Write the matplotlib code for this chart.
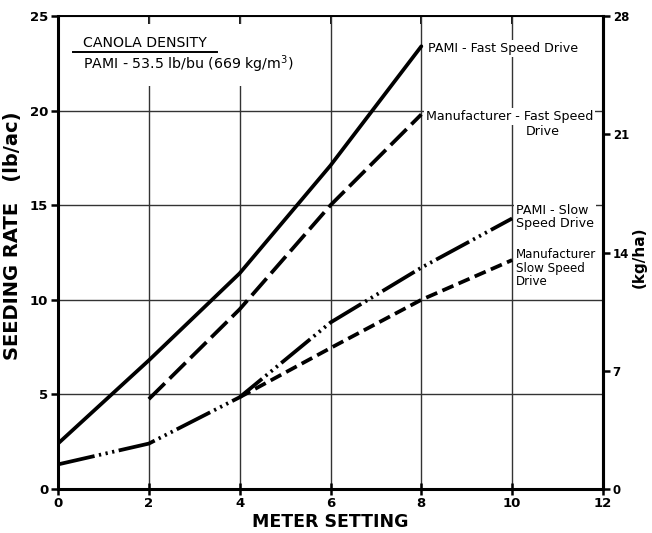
import matplotlib
matplotlib.use("Agg")
import matplotlib.pyplot as plt
from matplotlib.patches import Rectangle

# Data (lb/ac vs meter setting)
pami_fast_x = [0, 2, 4, 6, 8]
pami_fast_y = [2.4, 6.8, 11.4, 17.1, 23.4]
manu_fast_x = [2, 4, 6, 8]
manu_fast_y = [4.75, 9.5, 15.0, 19.8]
pami_slow_x = [0, 2, 4, 6, 8, 10]
pami_slow_y = [1.3, 2.4, 4.85, 8.8, 11.7, 14.3]
manu_slow_x = [4, 6, 8, 10]
manu_slow_y = [4.85, 7.45, 10.0, 12.1]

x_ticks = [0, 2, 4, 6, 8, 10, 12]
y_ticks = [0, 5, 10, 15, 20, 25]
kg_ticks = [0, 7, 14, 21, 28]

plt.rcParams['font.family'] = ['DejaVu Sans']

fig = plt.figure(figsize=(6.52, 5.33), dpi=100)
ax = fig.add_axes([58/652, 44/533, (603-58)/652, (489-16)/533])

ax.set_xlim(0, 12)
ax.set_ylim(0, 25)

# grid
for xv in x_ticks[1:-1]:
    ax.axvline(xv, color='#333333', lw=1.0, zorder=1)
for yv in y_ticks[1:-1]:
    ax.axhline(yv, color='#333333', lw=1.0, zorder=1)

# white area behind the density note
ax.add_patch(Rectangle((0.05, 21.3), 5.2, 3.3, facecolor='white', edgecolor='none', zorder=2))

lw = 2.7
ax.plot(pami_fast_x, pami_fast_y, color='black', lw=lw, solid_capstyle='round', zorder=3)
ax.plot(manu_fast_x, manu_fast_y, color='black', lw=lw, dashes=(6, 1.8), zorder=3)
ax.plot(pami_slow_x, pami_slow_y, color='black', lw=lw, dashes=(10, 1.2, 0.6, 1.2, 0.6, 1.2, 0.6, 1.2), zorder=3)
ax.plot(manu_slow_x, manu_slow_y, color='black', lw=lw, dashes=(3.2, 1.5), zorder=3)

bb = dict(facecolor='white', edgecolor='none', pad=1.5)
fs = 9.1
ax.text(8.15, 23.3, 'PAMI - Fast Speed Drive', fontsize=fs, va='center', ha='left', bbox=bb, zorder=4)
ax.text(8.1, 19.68, 'Manufacturer - Fast Speed', fontsize=fs, va='center', ha='left', bbox=bb, zorder=4)
ax.text(10.3, 18.9, 'Drive', fontsize=fs, va='center', ha='left', bbox=bb, zorder=4)
ax.text(10.08, 14.38, 'PAMI - Slow\nSpeed Drive', fontsize=fs, va='center', ha='left', bbox=bb, zorder=4, linespacing=1.0)
ax.text(10.08, 11.68, 'Manufacturer\nSlow Speed\nDrive', fontsize=8.6, va='center', ha='left', bbox=bb, zorder=4, linespacing=1.05)

ax.text(0.55, 23.55, 'CANOLA DENSITY', fontsize=10.2, va='center', ha='left', zorder=4)
ax.plot([0.33, 3.51], [23.1, 23.1], color='black', lw=1.4, zorder=5)
ax.text(0.55, 22.45, 'PAMI - 53.5 lb/bu (669 kg/m$^3$)', fontsize=10.2, va='center', ha='left', zorder=4)

ax.set_xticks(x_ticks)
ax.set_xticklabels([str(v) for v in x_ticks], fontweight='bold', fontsize=9.5)
ax.set_yticks(y_ticks)
ax.set_yticklabels([str(v) for v in y_ticks], fontweight='bold', fontsize=9.5)
ax.tick_params(axis='x', direction='inout', length=8, width=1.8, pad=2)
ax.tick_params(axis='y', direction='out', length=5, width=1.8, pad=2)
for s in ['left', 'bottom', 'right']:
    ax.spines[s].set_linewidth(2.2)
ax.spines['top'].set_linewidth(1.4)

# inward top ticks
top = ax.secondary_xaxis('top')
top.set_xticks(x_ticks[1:-1])
top.set_xticklabels([])
top.tick_params(direction='in', length=6, width=1.3)
top.spines['top'].set_visible(False)

ax.set_xlabel('METER SETTING', fontsize=12.5, fontweight='bold', labelpad=2)
ax.set_ylabel('SEEDING RATE   (lb/ac)', fontsize=14, fontweight='bold')
ax.yaxis.set_label_coords(-0.066, 0.535)

ax2 = ax.twinx()
ax2.set_ylim(0, 28)
ax2.set_yticks(kg_ticks)
ax2.set_yticklabels([str(v) for v in kg_ticks], fontweight='bold', fontsize=8.5)
ax2.tick_params(axis='y', direction='out', length=5, width=1.8, pad=2)
ax2.spines['right'].set_linewidth(2.2)
ax2.set_ylabel('(kg/ha)', fontsize=11, fontweight='bold', rotation=90)
ax2.yaxis.set_label_coords(1.053, 0.49)

fig.savefig('out.png', dpi=100)
